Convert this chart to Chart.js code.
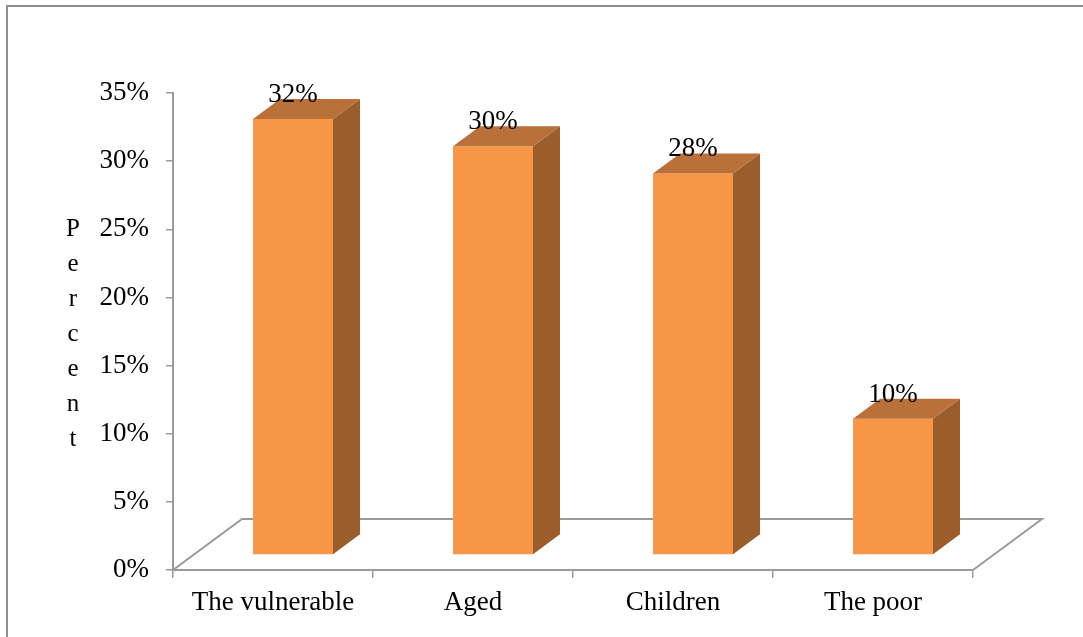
<!DOCTYPE html>
<html>
<head>
<meta charset="utf-8">
<script src="https://cdn.jsdelivr.net/npm/chart.js@4.4.1/dist/chart.umd.min.js"></script>
<style>
  html, body { margin: 0; padding: 0; background: #fff; overflow: hidden; }
  canvas { display: block; }
</style>
</head>
<body>
<canvas id="chart" width="1083" height="637"></canvas>
<script>
// Share of respondents by group
const categories = ['The vulnerable', 'Aged', 'Children', 'The poor'];
const percentValues = [32, 30, 28, 10];
const valueLabels = ['32%', '30%', '28%', '10%'];
const yTickValues = [0, 5, 10, 15, 20, 25, 30, 35];
const axisTitleLetters = ['P', 'e', 'r', 'c', 'e', 'n', 't'];

const FONT = '"Liberation Serif", "Times New Roman", serif';
const GRAY = '#9a9a9a';
const FRONT = '#F79646';
const SIDE = '#9B5D2B';
const TOP = '#BA7139';
// pseudo-3D offsets (pixels): floor depth, bar placement in depth, bar thickness
const FLOOR_DEPTH = { x: 69, y: -51 };
const BAR_SHIFT = { x: 20, y: -15 };
const BAR_DEPTH = { x: 27, y: -20 };

const depthPlugin = {
  id: 'depth3d',
  beforeDraw(chart) {
    const ctx = chart.ctx;
    ctx.save();
    // outer frame
    ctx.strokeStyle = '#8f8f8f';
    ctx.lineWidth = 2;
    ctx.strokeRect(7, 6, 1200, 800);
    // vertical axis title, one letter per line
    ctx.fillStyle = '#000';
    ctx.font = '25px ' + FONT;
    ctx.textAlign = 'center';
    ctx.textBaseline = 'alphabetic';
    axisTitleLetters.forEach((ch, i) => ctx.fillText(ch, 73, 236 + 35 * i));
    ctx.restore();
  },
  beforeDatasetsDraw(chart) {
    const ctx = chart.ctx;
    const xs = chart.scales.x, ys = chart.scales.y;
    const y0 = ys.getPixelForValue(0);
    const l = xs.left, r = xs.right;
    ctx.save();
    ctx.strokeStyle = GRAY;
    ctx.lineWidth = 2;
    ctx.beginPath();
    ctx.moveTo(l, y0);
    ctx.lineTo(l + FLOOR_DEPTH.x, y0 + FLOOR_DEPTH.y);
    ctx.lineTo(r + FLOOR_DEPTH.x, y0 + FLOOR_DEPTH.y);
    ctx.lineTo(r, y0);
    ctx.stroke();
    ctx.restore();
    ctx.save();
    ctx.translate(BAR_SHIFT.x, BAR_SHIFT.y);
  },
  afterDatasetsDraw(chart) {
    const ctx = chart.ctx;
    const meta = chart.getDatasetMeta(0);
    meta.data.forEach((bar, i) => {
      const p = bar.getProps(['x', 'y', 'base', 'width'], true);
      const left = p.x - p.width / 2, right = p.x + p.width / 2;
      const dx = BAR_DEPTH.x, dy = BAR_DEPTH.y;
      ctx.fillStyle = SIDE;
      ctx.beginPath();
      ctx.moveTo(right, p.y);
      ctx.lineTo(right + dx, p.y + dy);
      ctx.lineTo(right + dx, p.base + dy);
      ctx.lineTo(right, p.base);
      ctx.closePath();
      ctx.fill();
      ctx.fillStyle = TOP;
      ctx.beginPath();
      ctx.moveTo(left, p.y);
      ctx.lineTo(left + dx, p.y + dy);
      ctx.lineTo(right + dx, p.y + dy);
      ctx.lineTo(right, p.y);
      ctx.closePath();
      ctx.fill();
      ctx.fillStyle = '#000';
      ctx.font = '27px ' + FONT;
      ctx.textAlign = 'center';
      ctx.textBaseline = 'middle';
      ctx.fillText(valueLabels[i], p.x, p.y - 24);
    });
    ctx.restore();
  }
};

new Chart(document.getElementById('chart'), {
  type: 'bar',
  data: {
    labels: categories,
    datasets: [{
      data: percentValues,
      backgroundColor: FRONT,
      borderWidth: 0,
      categoryPercentage: 1,
      barPercentage: 0.4,
      clip: false
    }]
  },
  options: {
    responsive: false,
    animation: false,
    devicePixelRatio: 1,
    layout: { padding: { top: 93, right: 110, left: 0, bottom: 0 } },
    plugins: { legend: { display: false }, tooltip: { enabled: false } },
    scales: {
      x: {
        grid: { offset: true, drawOnChartArea: false, drawTicks: true, tickLength: 8, color: GRAY, lineWidth: 1.5 },
        border: { display: true, color: GRAY, width: 2 },
        ticks: { padding: 9, color: '#000', font: { family: FONT, size: 27 }, maxRotation: 0, autoSkip: false },
        afterFit(scale) { scale.height = 67; }
      },
      y: {
        min: 0,
        max: 35,
        grid: { drawOnChartArea: false, drawTicks: true, tickLength: 7, color: GRAY, lineWidth: 1.5 },
        border: { display: true, color: GRAY, width: 2 },
        ticks: {
          padding: 17,
          color: '#000',
          font: { family: FONT, size: 27 },
          callback: (v) => v + '%'
        },
        afterBuildTicks(scale) { scale.ticks = yTickValues.map(v => ({ value: v })); },
        afterFit(scale) { scale.width = 173; }
      }
    }
  },
  plugins: [depthPlugin]
});
</script>
</body>
</html>
